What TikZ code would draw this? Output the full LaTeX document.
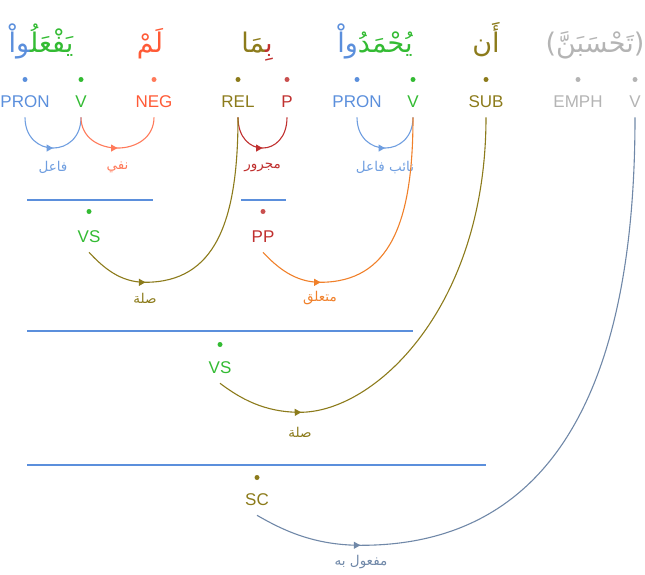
\documentclass[tikz,border=0pt]{standalone}
\usepackage{fontspec}
\setmainfont{Liberation Sans}
\newfontfamily\arabicfont[Script=Arabic]{DejaVu Sans}
\TeXXeTstate=1
\usepackage{tikz}
\usetikzlibrary{arrows.meta,positioning,decorations.markings}
\definecolor{pronblue}{HTML}{5B8FDC}
\definecolor{arcblue}{HTML}{6F9EE0}
\definecolor{verbgreen}{HTML}{33BB33}
\definecolor{negred}{HTML}{FF5A36}
\definecolor{arcneg}{HTML}{FF7A5A}
\definecolor{relolive}{HTML}{8C7B1B}
\definecolor{prepred}{HTML}{C0302F}
\definecolor{emphgray}{HTML}{B4B4B4}
\definecolor{linkorange}{HTML}{F0802A}
\definecolor{slate}{HTML}{7088A8}
\tikzset{
  tagnode/.style={text=#1, font=\fontsize{17}{20}\selectfont, inner xsep=0pt,
    inner ysep=10pt, text height=12.2pt, text depth=0pt},
  dotnode/.style={circle, fill=#1, inner sep=0pt, minimum size=5pt},
  wordnode/.style={font=\arabicfont\fontsize{27}{32}\selectfont, anchor=base, inner sep=0pt},
  rellabel/.style={text=#1, font=\arabicfont\fontsize{13.5}{16}\selectfont, inner sep=0pt},
  arcline/.style={draw=#1, line width=1.1pt},
  tipat/.style={postaction={decorate, decoration={markings,
    mark=at position #1 with {\arrow{Triangle[length=6.5pt, width=7pt]}}}}},
  spanline/.style={draw=pronblue, line width=1.3pt},
}
\newcommand{\zwj}{^^^^200d}

\begin{document}
\begin{tikzpicture}[x=1pt, y=-1pt]
    \useasboundingbox (0,0) rectangle (645,575);

    % words
    \node[wordnode] (w1) at (41,53) {{\color{pronblue}\zwj واْ}{\color{verbgreen}يَفْعَلُ\zwj}};
    \node[wordnode, text=negred] (w2) at (150,53) {لَمْ};
    \node[wordnode] (w3) at (257,53) {{\color{relolive}\zwj مَا}{\color{prepred}بِ\zwj}};
    \node[wordnode] (w4) at (375,53) {{\color{pronblue}واْ}{\color{verbgreen}يُحْمَدُ}};
    \node[wordnode, text=relolive] (w5) at (486,53) {أَن};
    \node[wordnode, text=emphgray] (w6) at (595,53) {(تَحْسَبَنَّ)};

    % tags
    \node[tagnode=pronblue] (pron1) at (25,101) {PRON};
    \node[tagnode=verbgreen] (v1) at (81,101) {V};
    \node[tagnode=negred] (neg) at (154,101) {NEG};
    \node[tagnode=relolive] (rel) at (238,101) {REL};
    \node[tagnode=prepred] (prep) at (287,101) {P};
    \node[tagnode=pronblue] (pron2) at (357,101) {PRON};
    \node[tagnode=verbgreen] (v2) at (413,101) {V};
    \node[tagnode=relolive] (sub) at (486,101) {SUB};
    \node[tagnode=emphgray] (emph) at (578,101) {EMPH};
    \node[tagnode=emphgray] (v3) at (635,101) {V};

    \node[dotnode=pronblue, above=2.5pt of pron1] (pron1d) {};
    \node[dotnode=verbgreen, above=2.5pt of v1] (v1d) {};
    \node[dotnode=arcneg, above=2.5pt of neg] (negd) {};
    \node[dotnode=relolive, above=2.5pt of rel] (reld) {};
    \node[dotnode=prepred!85!white, above=2.5pt of prep] (prepd) {};
    \node[dotnode=pronblue, above=2.5pt of pron2] (pron2d) {};
    \node[dotnode=verbgreen, above=2.5pt of v2] (v2d) {};
    \node[dotnode=relolive, above=2.5pt of sub] (subd) {};
    \node[dotnode=emphgray, above=2.5pt of emph] (emphd) {};
    \node[dotnode=emphgray, above=2.5pt of v3] (v3d) {};

    % phrases
    \node[tagnode=verbgreen] (vs1) at (89,236) {VS};
    \node[tagnode=prepred] (pp) at (263,236) {PP};
    \node[tagnode=verbgreen] (vs2) at (220,367) {VS};
    \node[tagnode=relolive] (sc) at (257,499) {SC};
    \node[dotnode=verbgreen, above=5.5pt of vs1] (vs1d) {};
    \node[dotnode=prepred!85!white, above=5.5pt of pp] (ppd) {};
    \node[dotnode=verbgreen, above=3.5pt of vs2] (vs2d) {};
    \node[dotnode=relolive, above=2.5pt of sc] (scd) {};

    \draw[spanline] (27,200) -- (153,200);
    \draw[spanline] (241,200) -- (286,200);
    \draw[spanline] (27,331) -- (413,331);
    \draw[spanline] (27,465) -- (486,465);

    % short arcs
    \draw[arcline=arcblue, tipat=0.5] (pron1.south) .. controls +(0,41) and +(0,41) .. (v1.south)
      node[pos=0.5, yshift=-19pt, rellabel=arcblue] (lfail) {فاعل};
    \draw[arcline=arcneg, tipat=0.5] (v1.south) .. controls +(0,41) and +(0,41) .. (neg.south)
      node[pos=0.5, yshift=-19pt, rellabel=arcneg] (lnafy) {نفي};
    \draw[arcline=prepred, tipat=0.5] (rel.south) .. controls +(0,41) and +(0,41) .. (prep.south)
      node[pos=0.5, yshift=-19pt, rellabel=prepred] (lmajrur) {مجرور};
    \draw[arcline=arcblue, tipat=0.5] (pron2.south) .. controls +(0,41) and +(0,41) .. (v2.south)
      node[pos=0.5, yshift=-19pt, rellabel=arcblue] (lnaib) {\beginR نائب فاعل\endR};

    % long arcs
    \draw[arcline=relolive, tipat=66pt] (vs1.south) .. controls +(14,15) and +(-25,0) .. ++(56,30)
      node[yshift=-16pt, rellabel=relolive] (lsila1) {صلة}
      .. controls +(70,0) and +(0,105) .. (rel.south);
    \draw[arcline=linkorange, tipat=67pt] (pp.south) .. controls +(14,15) and +(-25,0) .. ++(57,30)
      node[yshift=-16pt, rellabel=linkorange] (lmutaalliq) {متعلق}
      .. controls +(70,0) and +(0,105) .. (v2.south);
    \draw[arcline=relolive, tipat=88pt] (vs2.south) .. controls +(20,15) and +(-36,0) .. ++(80,29)
      node[yshift=-20pt, rellabel=relolive] (lsila2) {صلة}
      .. controls +(75,0) and +(0,190) .. (sub.south);
    \draw[arcline=slate, tipat=109pt] (sc.south) .. controls +(26,15) and +(-47,0) .. ++(104,30)
      node[yshift=-17pt, rellabel=slate] (lmafool) {\beginR مفعول به\endR}
      .. controls +(185,0) and +(0,280) .. (v3.south);
  \end{tikzpicture}
\end{document}
